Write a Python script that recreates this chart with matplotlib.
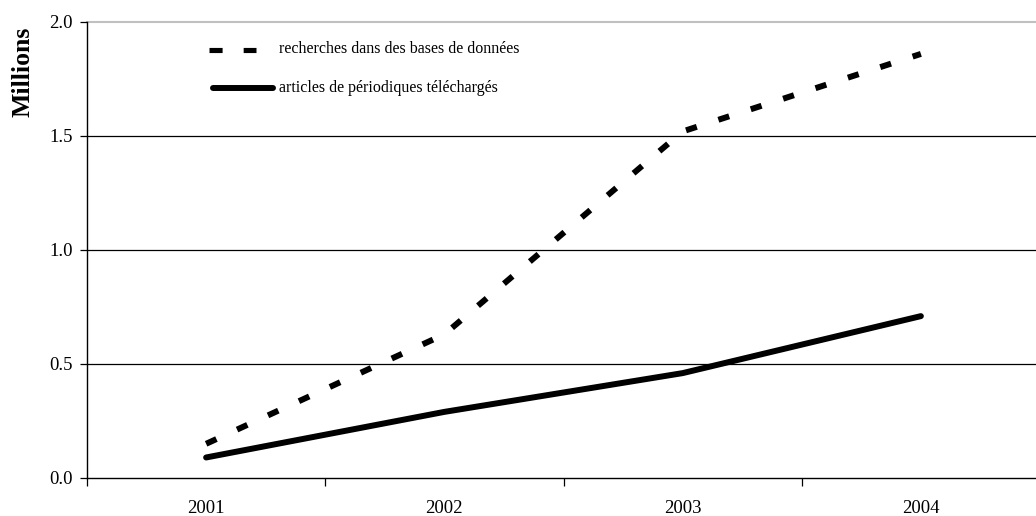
import matplotlib
matplotlib.use("Agg")
import matplotlib.pyplot as plt
from matplotlib.lines import Line2D

years = ["2001", "2002", "2003", "2004"]
recherches = [0.15, 0.63, 1.52, 1.86]
articles = [0.09, 0.29, 0.46, 0.71]
yticks = [0.0, 0.5, 1.0, 1.5, 2.0]
ytick_labels = ["0.0", "0.5", "1.0", "1.5", "2.0"]
label_rech = "recherches dans des bases de données"
label_art = "articles de périodiques téléchargés"

plt.rcParams['font.family'] = ['Liberation Serif', 'DejaVu Serif']

W, H = 1036, 516
fig = plt.figure(figsize=(W/100, H/100), dpi=100)
ax = fig.add_axes([87/W, 1 - 478/H, (1040-87)/W, (478-22)/H])

x = list(range(len(years)))
ax.set_xlim(-0.5, 3.5)
ax.set_ylim(0, 2.0)

for yv in yticks[1:-1]:
    ax.axhline(yv, color='black', lw=0.9, zorder=1)
ax.axhline(2.0, color='#c0c0c0', lw=1.5, zorder=1, clip_on=False)

ax.plot(x, recherches, color='black', lw=4.3, ls=(0, (1.9, 3.8)),
        dash_capstyle='butt', solid_joinstyle='round', zorder=3)
ax.plot(x, articles, color='black', lw=4.3, solid_capstyle='round',
        solid_joinstyle='round', zorder=3)

for s in ['top', 'right']:
    ax.spines[s].set_visible(False)
ax.spines['left'].set_linewidth(1.0)
ax.spines['bottom'].set_linewidth(1.0)

ax.set_yticks(yticks)
ax.set_yticklabels(ytick_labels, fontsize=13.5)
ax.tick_params(axis='y', direction='out', length=5, width=0.9, pad=5)

ax.set_xticks([-0.5, 0.5, 1.5, 2.5])
ax.set_xticklabels([])
ax.set_xticks(x, minor=True)
ax.set_xticklabels(years, minor=True, fontsize=13.5)
ax.tick_params(axis='x', which='major', direction='out', length=6, width=0.9)
ax.tick_params(axis='x', which='minor', length=0, pad=16)

fig.text(23/W, 1 - 72/H, "Millions", rotation=90, fontsize=18.5,
         fontweight='bold', ha='center', va='center')

# legend drawn manually to match handle geometry
def fx(px):
    return px / W

def fy(py):
    return 1 - py / H

fig.add_artist(Line2D([fx(209), fx(256)], [fy(49.5), fy(49.5)], transform=fig.transFigure,
                      color='black', lw=3.7, ls=(0, (2.55, 4.1)), dash_capstyle='butt'))
fig.add_artist(Line2D([fx(213), fx(273)], [fy(88), fy(88)], transform=fig.transFigure,
                      color='black', lw=4.3, solid_capstyle='round'))
fig.text(fx(279), fy(49), label_rech, fontsize=11.5, ha='left', va='center')
fig.text(fx(279), fy(88), label_art, fontsize=11.5, ha='left', va='center')

fig.savefig("out.png", dpi=100)
